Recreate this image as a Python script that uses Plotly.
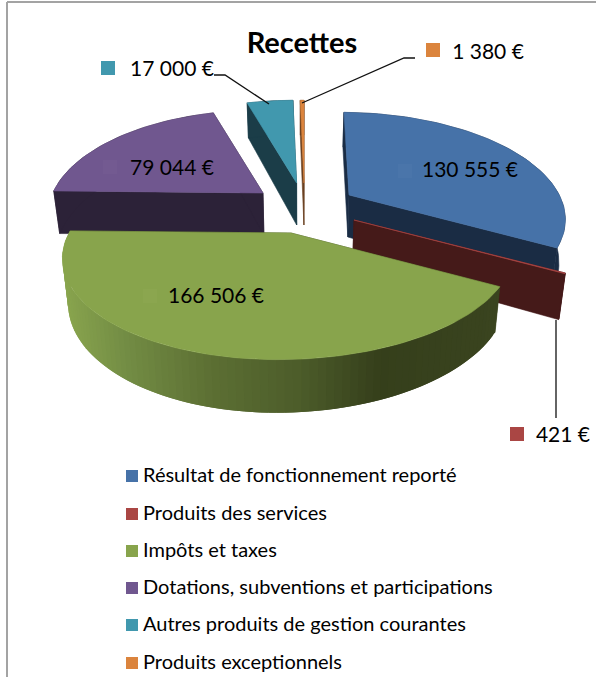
import math
import plotly.graph_objects as go

# ---- data ----
categories = ["Résultat de fonctionnement reporté", "Produits des services", "Impôts et taxes",
              "Dotations, subventions et participations", "Autres produits de gestion courantes",
              "Produits exceptionnels"]
values = [130555, 421, 166506, 79044, 17000, 1380]
title_text = "Recettes"

# ---- styles / layout (pixels of the 596x677 page) ----
top_colors = ["#4672a8", "#aa4644", "#88a44c", "#70578f", "#4198ae", "#db843d"]
side_colors = ["#1a2c44", "#451a19", "#3a441f", "#2c2238", "#1b3d48", "#6a4020"]
# apex x, apex y, vanishing x, x radius right of the axis, x radius left of the axis
geom = [(349, 195, 320, 215, 215), (354, 220, 320, 218, 218), (291, 233, 320, 222, 217),
        (263, 193, 263, 206, 206), (296.6, 183, 296.6, 205, 205), (304, 183, 304, 205, 205)]
label_pos = [(470, 172), (563, 437), (216, 298), (172, 170), (172, 71), (488, 54)]
key_pos = [(405, 171), (517, 434), (150, 296), (110, 167), (108, 68), (433, 50)]
key_colors = ["#4a75aa", "#aa4644", "#8ba64f", "#735a91", "#4198ae", "#db843d"]
legend_y = [476, 514, 551, 588, 625, 663]
FONT = "Lato"
P, Q, D, H = 0.21, 0.02, 100, 42

def project(i, theta, r=1.0, low=False):
    ax, ay, vx, A_r, A_l = geom[i]
    X, Y = r * math.sin(theta), r * math.cos(theta)
    w = 1 + P * Y + Q * X
    sx = vx + (ax - vx + (A_r if X > 0 else A_l) * X) / w
    sy = ay - D * Y / w
    if low:
        sy += H / w
        sx += (300 - sx) * 0.024
    return sx, sy

def poly(pts, color, lw=0.6):
    return go.Scatter(x=[p[0] for p in pts] + [pts[0][0]], y=[p[1] for p in pts] + [pts[0][1]],
                      mode="lines", fill="toself", fillcolor=color, line=dict(color=color, width=lw),
                      hoverinfo="skip", showlegend=False)

def lerp_hex(stops, x):
    for (x0, c0), (x1, c1) in zip(stops, stops[1:]):
        if x <= x1:
            t = max(0, (x - x0) / (x1 - x0))
            a = [int(c0[k:k + 2], 16) for k in (1, 3, 5)]
            b = [int(c1[k:k + 2], 16) for k in (1, 3, 5)]
            return "#%02x%02x%02x" % tuple(round(u + (v - u) * t) for u, v in zip(a, b))
    return stops[-1][1]

green_wall = [(60, "#8aa64e"), (120, "#748e45"), (210, "#5c6f33"), (300, "#4c5c2a"), (380, "#353f1b"), (500, "#3a441f")]

total = sum(values)
starts, s = [], 0.0
for v in values:
    starts.append(s)
    s += v / total * 2 * math.pi

fig = go.Figure()
for i in [5, 4, 3, 0, 1, 2]:
    a0 = starts[i]
    a1 = a0 + values[i] / total * 2 * math.pi
    n = max(2, int((a1 - a0) / 0.03))
    angles = [a0 + (a1 - a0) * k / n for k in range(n + 1)]
    top_arc = [project(i, t) for t in angles]
    low_arc = [project(i, t, low=True) for t in angles]
    apex = project(i, 0, r=0)
    apex_low = project(i, 0, r=0, low=True)
    side = side_colors[i]
    fig.add_trace(poly([apex, top_arc[0], low_arc[0], apex_low], side))
    fig.add_trace(poly([apex, top_arc[-1], low_arc[-1], apex_low], side))
    if i == 2:
        # wall shading: one band per step; each band runs on under the next so no seams show
        for k in range(n):
            c = lerp_hex(green_wall, (top_arc[k][0] + top_arc[k + 1][0]) / 2)
            e = n if k == n - 1 else k + 2
            e = min(e, n)
            fig.add_trace(poly([top_arc[k], top_arc[e], low_arc[e], low_arc[k]], c, lw=0))
    else:
        fig.add_trace(poly(top_arc + low_arc[::-1], side))
    fig.add_trace(poly([apex] + top_arc, top_colors[i]))

# leader lines
for lx, ly in [((214, 225, 269), (75, 75, 104)), ((302, 404, 415), (103, 58, 58)), ((556, 556), (320, 418))]:
    fig.add_trace(go.Scatter(x=lx, y=ly, mode="lines", line=dict(color="#111111", width=1.3),
                             hoverinfo="skip", showlegend=False))

# value labels
fig.add_trace(go.Scatter(x=[p[0] for p in key_pos], y=[p[1] for p in key_pos], mode="markers",
                         marker=dict(symbol="square", size=14, color=key_colors, line=dict(width=0)),
                         hoverinfo="skip", showlegend=False))
fig.add_trace(go.Scatter(x=[p[0] for p in label_pos], y=[p[1] for p in label_pos], mode="text",
                         text=[f"{v:,}".replace(",", " ") + " €" for v in values],
                         textposition="middle center", textfont=dict(family=FONT, size=21, color="#000000"),
                         hoverinfo="skip", showlegend=False))

# legend
fig.add_trace(go.Scatter(x=[132] * 6, y=legend_y, mode="markers",
                         marker=dict(symbol="square", size=12, color=top_colors, line=dict(width=0)),
                         hoverinfo="skip", showlegend=False))
fig.add_trace(go.Scatter(x=[143] * 6, y=[v + 1 for v in legend_y], mode="text", text=categories,
                         textposition="middle right", textfont=dict(family=FONT, size=20, color="#000000"),
                         hoverinfo="skip", showlegend=False))

fig.update_layout(
    width=596, height=677, margin=dict(l=0, r=0, t=0, b=0),
    paper_bgcolor="white", plot_bgcolor="white", showlegend=False,
    title=dict(text=title_text, x=302 / 596, y=1 - 43 / 677, xanchor="center", yanchor="middle",
               font=dict(family=FONT, size=29, color="#000000", weight="bold")),
    xaxis=dict(range=[0, 596], visible=False, fixedrange=True),
    yaxis=dict(range=[677, 0], visible=False, fixedrange=True),
    shapes=[dict(type="line", x0=7, x1=7, y0=2, y1=677, line=dict(color="#a3a3a3", width=2)),
            dict(type="line", x0=7, x1=596, y0=2, y1=2, line=dict(color="#a3a3a3", width=2))],
)
fig.write_html("out.html", config={"displayModeBar": False},
               post_script="document.body.style.margin='0';")
